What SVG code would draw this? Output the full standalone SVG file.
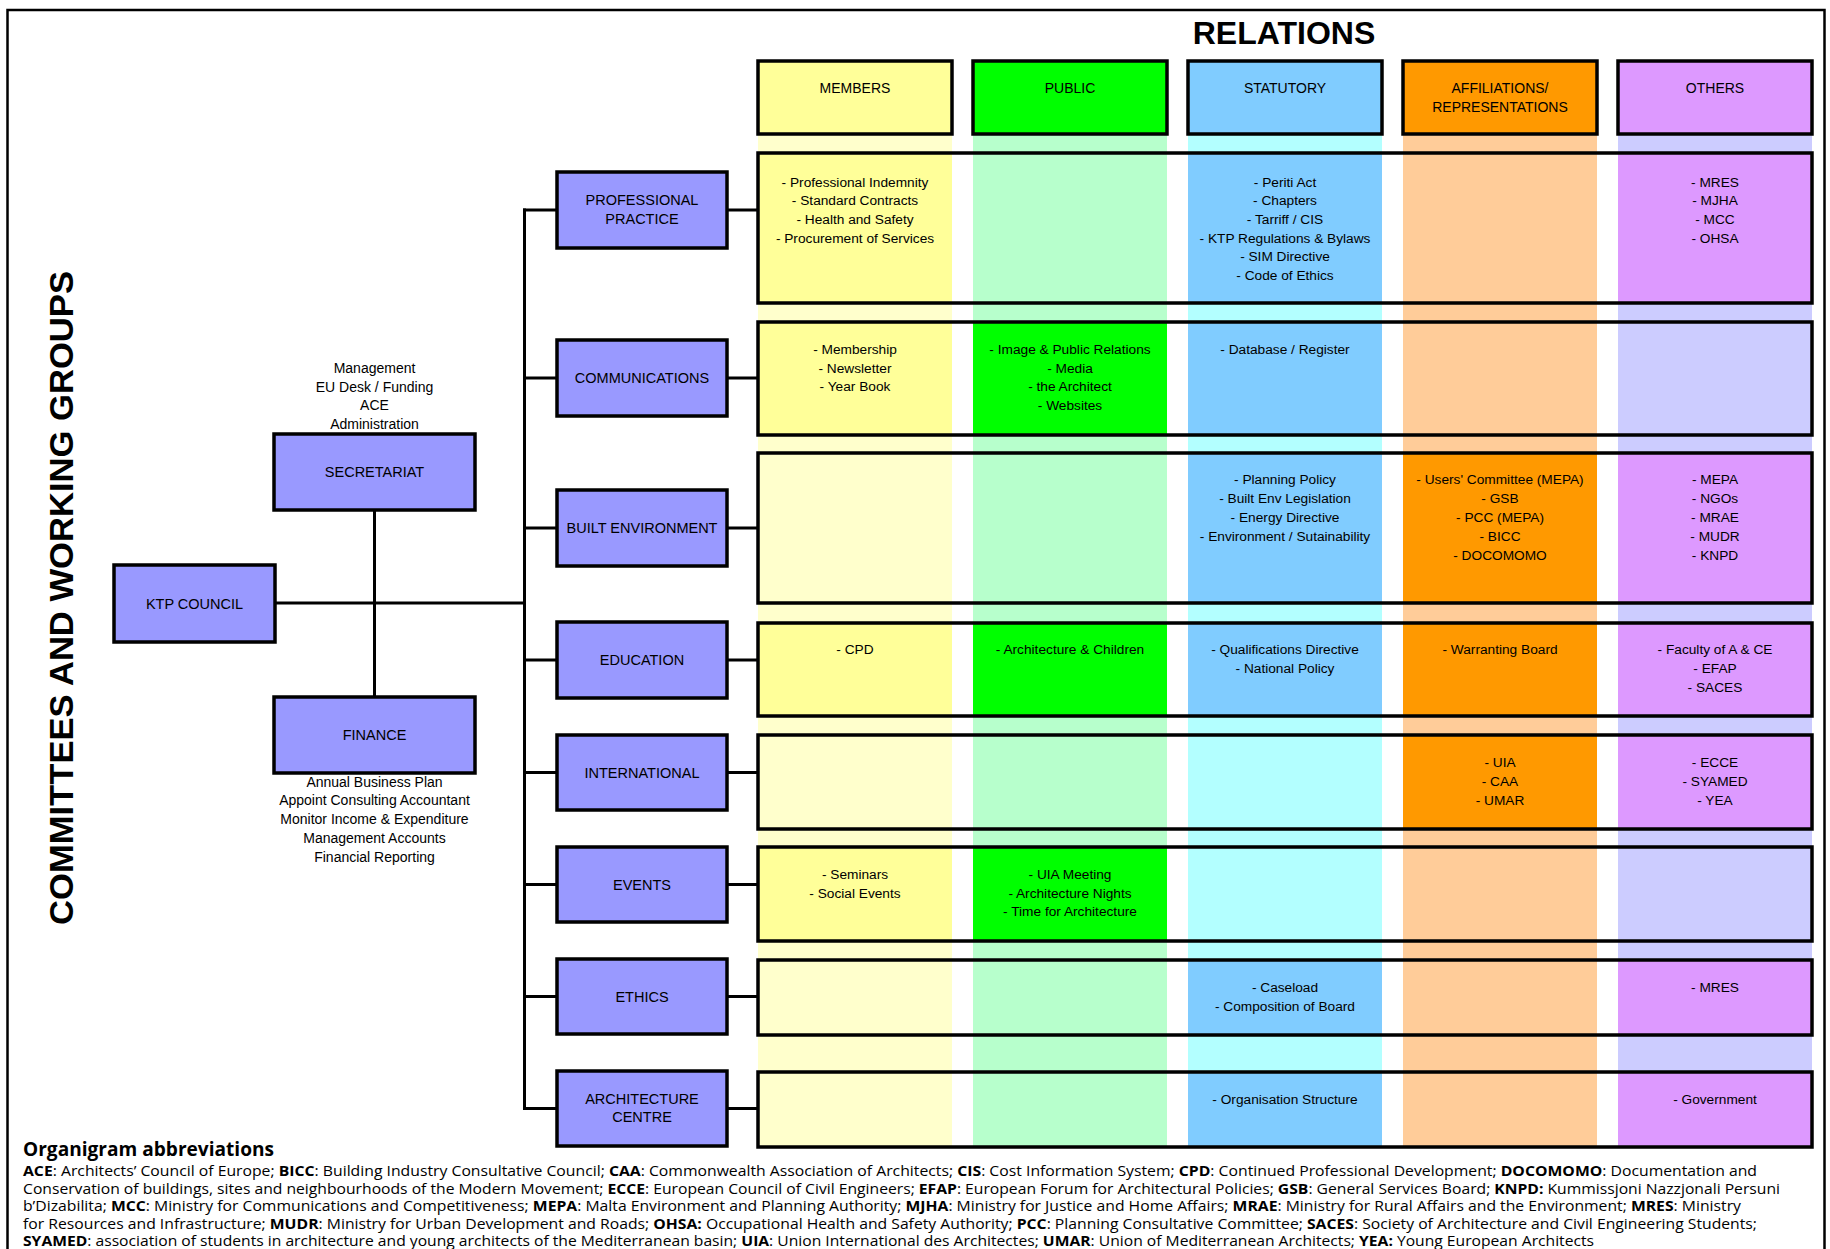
<svg xmlns="http://www.w3.org/2000/svg" width="1830" height="1249" viewBox="0 0 1830 1249">
<style>
.frame{fill:none;stroke:#000;stroke-width:2.5}
.box{fill:#9999FF;stroke:#000;stroke-width:3.5}
.rowbox{fill:none;stroke:#000;stroke-width:3.5}
.hdr{stroke:#000;stroke-width:3.5}
.conn{fill:none;stroke:#000;stroke-width:3}
text{font-family:"Liberation Sans",Arial,sans-serif;fill:#000}
.lbl{font-size:14.5px;text-anchor:middle}
.hl{font-size:14px;text-anchor:middle}
.cell{font-size:13.7px;text-anchor:middle}
.note{font-size:14px;text-anchor:middle}
.title{font-size:32px;font-weight:bold;text-anchor:middle}
.vtitle{font-size:34px;font-weight:bold;text-anchor:middle}
.abh{font-family:"Open Sans","Noto Sans",sans-serif;font-size:20px;font-weight:bold}
.ab{font-family:"Open Sans","Noto Sans",sans-serif;font-size:15px}
.ab tspan.b{font-weight:bold}
.sM{fill:#FFFF99}.sP{fill:#00FF00}.sS{fill:#80CCFF}.sA{fill:#FF9900}.sO{fill:#DD99FF}
.pM{fill:#FFFFCC}.pP{fill:#B7FFCC}.pS{fill:#B3FFFF}.pA{fill:#FFCC99}.pO{fill:#CCCCFF}
</style>

<rect class="frame" x="7.5" y="10" width="1817" height="1260"/>

<text class="title" x="1284" y="43.5">RELATIONS</text>
<text class="vtitle" transform="translate(73,598) rotate(-90)" textLength="654" lengthAdjust="spacingAndGlyphs">COMMITTEES AND WORKING GROUPS</text>

<!-- pale column strips -->
<g id="strips">
<rect class="pM" x="758" y="135" width="194" height="1013"/>
<rect class="pP" x="973" y="135" width="194" height="1013"/>
<rect class="pS" x="1188" y="135" width="194" height="1013"/>
<rect class="pA" x="1403" y="135" width="194" height="1013"/>
<rect class="pO" x="1618" y="135" width="194" height="1013"/>
</g>

<!-- column headers -->
<g id="hdr-members"><rect class="hdr sM" x="758" y="61" width="194" height="73"/><text class="hl" x="855" y="93">MEMBERS</text></g>
<g id="hdr-public"><rect class="hdr sP" x="973" y="61" width="194" height="73"/><text class="hl" x="1070" y="93">PUBLIC</text></g>
<g id="hdr-statutory"><rect class="hdr sS" x="1188" y="61" width="194" height="73"/><text class="hl" x="1285" y="93">STATUTORY</text></g>
<g id="hdr-affiliations"><rect class="hdr sA" x="1403" y="61" width="194" height="73"/><text class="hl" x="1500" y="93">AFFILIATIONS/</text><text class="hl" x="1500" y="112">REPRESENTATIONS</text></g>
<g id="hdr-others"><rect class="hdr sO" x="1618" y="61" width="194" height="73"/><text class="hl" x="1715" y="93">OTHERS</text></g>

<!-- relation rows -->
<g id="row-pp">
<rect class="sM" x="758" y="153" width="194" height="150"/>
<rect class="sS" x="1188" y="153" width="194" height="150"/>
<rect class="sO" x="1618" y="153" width="194" height="150"/>
<rect class="rowbox" x="758" y="153" width="1054" height="150"/>
<text class="cell" x="855" y="186.5">- Professional Indemnity<tspan x="855" dy="18.7">- Standard Contracts</tspan><tspan x="855" dy="18.7">- Health and Safety</tspan><tspan x="855" dy="18.7">- Procurement of Services</tspan></text>
<text class="cell" x="1285" y="186.5">- Periti Act<tspan x="1285" dy="18.7">- Chapters</tspan><tspan x="1285" dy="18.7">- Tarriff / CIS</tspan><tspan x="1285" dy="18.7">- KTP Regulations &amp; Bylaws</tspan><tspan x="1285" dy="18.7">- SIM Directive</tspan><tspan x="1285" dy="18.7">- Code of Ethics</tspan></text>
<text class="cell" x="1715" y="186.5">- MRES<tspan x="1715" dy="18.7">- MJHA</tspan><tspan x="1715" dy="18.7">- MCC</tspan><tspan x="1715" dy="18.7">- OHSA</tspan></text>
</g>

<g id="row-comm">
<rect class="sM" x="758" y="322" width="194" height="113"/>
<rect class="sP" x="973" y="322" width="194" height="113"/>
<rect class="sS" x="1188" y="322" width="194" height="113"/>
<rect class="rowbox" x="758" y="322" width="1054" height="113"/>
<text class="cell" x="855" y="354">- Membership<tspan x="855" dy="18.7">- Newsletter</tspan><tspan x="855" dy="18.7">- Year Book</tspan></text>
<text class="cell" x="1070" y="354">- Image &amp; Public Relations<tspan x="1070" dy="18.7">- Media</tspan><tspan x="1070" dy="18.7">- the Architect</tspan><tspan x="1070" dy="18.7">- Websites</tspan></text>
<text class="cell" x="1285" y="354">- Database / Register</text>
</g>

<g id="row-be">
<rect class="sS" x="1188" y="453" width="194" height="150"/>
<rect class="sA" x="1403" y="453" width="194" height="150"/>
<rect class="sO" x="1618" y="453" width="194" height="150"/>
<rect class="rowbox" x="758" y="453" width="1054" height="150"/>
<text class="cell" x="1285" y="484">- Planning Policy<tspan x="1285" dy="18.9">- Built Env Legislation</tspan><tspan x="1285" dy="18.9">- Energy Directive</tspan><tspan x="1285" dy="18.9">- Environment / Sutainability</tspan></text>
<text class="cell" x="1500" y="484">- Users' Committee (MEPA)<tspan x="1500" dy="18.9">- GSB</tspan><tspan x="1500" dy="18.9">- PCC (MEPA)</tspan><tspan x="1500" dy="18.9">- BICC</tspan><tspan x="1500" dy="18.9">- DOCOMOMO</tspan></text>
<text class="cell" x="1715" y="484">- MEPA<tspan x="1715" dy="18.9">- NGOs</tspan><tspan x="1715" dy="18.9">- MRAE</tspan><tspan x="1715" dy="18.9">- MUDR</tspan><tspan x="1715" dy="18.9">- KNPD</tspan></text>
</g>

<g id="row-edu">
<rect class="sM" x="758" y="623" width="194" height="93"/>
<rect class="sP" x="973" y="623" width="194" height="93"/>
<rect class="sS" x="1188" y="623" width="194" height="93"/>
<rect class="sA" x="1403" y="623" width="194" height="93"/>
<rect class="sO" x="1618" y="623" width="194" height="93"/>
<rect class="rowbox" x="758" y="623" width="1054" height="93"/>
<text class="cell" x="855" y="654">- CPD</text>
<text class="cell" x="1070" y="654">- Architecture &amp; Children</text>
<text class="cell" x="1285" y="654">- Qualifications Directive<tspan x="1285" dy="18.9">- National Policy</tspan></text>
<text class="cell" x="1500" y="654">- Warranting Board</text>
<text class="cell" x="1715" y="654">- Faculty of A &amp; CE<tspan x="1715" dy="18.9">- EFAP</tspan><tspan x="1715" dy="18.9">- SACES</tspan></text>
</g>

<g id="row-intl">
<rect class="sA" x="1403" y="735" width="194" height="94"/>
<rect class="sO" x="1618" y="735" width="194" height="94"/>
<rect class="rowbox" x="758" y="735" width="1054" height="94"/>
<text class="cell" x="1500" y="766.5">- UIA<tspan x="1500" dy="19">- CAA</tspan><tspan x="1500" dy="19">- UMAR</tspan></text>
<text class="cell" x="1715" y="766.5">- ECCE<tspan x="1715" dy="19">- SYAMED</tspan><tspan x="1715" dy="19">- YEA</tspan></text>
</g>

<g id="row-events">
<rect class="sM" x="758" y="847" width="194" height="94"/>
<rect class="sP" x="973" y="847" width="194" height="94"/>
<rect class="rowbox" x="758" y="847" width="1054" height="94"/>
<text class="cell" x="855" y="879">- Seminars<tspan x="855" dy="19">- Social Events</tspan></text>
<text class="cell" x="1070" y="879">- UIA Meeting<tspan x="1070" dy="19">- Architecture Nights</tspan><tspan x="1070" dy="18">- Time for Architecture</tspan></text>
</g>

<g id="row-ethics">
<rect class="sS" x="1188" y="960" width="194" height="75"/>
<rect class="sO" x="1618" y="960" width="194" height="75"/>
<rect class="rowbox" x="758" y="960" width="1054" height="75"/>
<text class="cell" x="1285" y="991.5">- Caseload<tspan x="1285" dy="19.5">- Composition of Board</tspan></text>
<text class="cell" x="1715" y="991.5">- MRES</text>
</g>

<g id="row-arch">
<rect class="sS" x="1188" y="1072" width="194" height="75"/>
<rect class="sO" x="1618" y="1072" width="194" height="75"/>
<rect class="rowbox" x="758" y="1072" width="1054" height="75"/>
<text class="cell" x="1285" y="1103.5">- Organisation Structure</text>
<text class="cell" x="1715" y="1103.5">- Government</text>
</g>

<!-- connectors -->
<g id="connectors">
<line class="conn" x1="524.5" y1="208.5" x2="524.5" y2="1110"/>
<line class="conn" x1="275" y1="603" x2="524.5" y2="603"/>
<line class="conn" x1="374.5" y1="510" x2="374.5" y2="697"/>
<path class="conn" d="M523 210H557M727 210H758M523 378H557M727 378H758M523 528H557M727 528H758M523 660H557M727 660H758M523 772.5H557M727 772.5H758M523 884.5H557M727 884.5H758M523 996.5H557M727 996.5H758M523 1108.5H557M727 1108.5H758"/>
</g>

<!-- left nodes -->
<g id="ktp-council"><rect class="box" x="114" y="565" width="161" height="77"/><text class="lbl" x="194.5" y="608.5">KTP COUNCIL</text></g>
<g id="secretariat"><rect class="box" x="274" y="434" width="201" height="76"/><text class="lbl" x="374.5" y="477">SECRETARIAT</text>
<text class="note" x="374.5" y="373">Management<tspan x="374.5" dy="18.7">EU Desk / Funding</tspan><tspan x="374.5" dy="18.7">ACE</tspan><tspan x="374.5" dy="18.7">Administration</tspan></text></g>
<g id="finance"><rect class="box" x="274" y="697" width="201" height="76"/><text class="lbl" x="374.5" y="740">FINANCE</text>
<text class="note" x="374.5" y="786.7">Annual Business Plan<tspan x="374.5" dy="18.75">Appoint Consulting Accountant</tspan><tspan x="374.5" dy="18.75">Monitor Income &amp; Expenditure</tspan><tspan x="374.5" dy="18.75">Management Accounts</tspan><tspan x="374.5" dy="18.75">Financial Reporting</tspan></text></g>

<g id="professional-practice"><rect class="box" x="557" y="172" width="170" height="76"/><text class="lbl" x="642" y="205">PROFESSIONAL</text><text class="lbl" x="642" y="223.5">PRACTICE</text></g>
<g id="communications"><rect class="box" x="557" y="340" width="170" height="76"/><text class="lbl" x="642" y="383">COMMUNICATIONS</text></g>
<g id="built-environment"><rect class="box" x="557" y="490" width="170" height="76"/><text class="lbl" x="642" y="533">BUILT ENVIRONMENT</text></g>
<g id="education"><rect class="box" x="557" y="622" width="170" height="76"/><text class="lbl" x="642" y="665">EDUCATION</text></g>
<g id="international"><rect class="box" x="557" y="735" width="170" height="75"/><text class="lbl" x="642" y="777.5">INTERNATIONAL</text></g>
<g id="events"><rect class="box" x="557" y="847" width="170" height="75"/><text class="lbl" x="642" y="889.5">EVENTS</text></g>
<g id="ethics"><rect class="box" x="557" y="959" width="170" height="75"/><text class="lbl" x="642" y="1001.5">ETHICS</text></g>
<g id="architecture-centre"><rect class="box" x="557" y="1071" width="170" height="75"/><text class="lbl" x="642" y="1103.5">ARCHITECTURE</text><text class="lbl" x="642" y="1122">CENTRE</text></g>

<!-- abbreviations -->
<g id="abbreviations">
<text class="abh" x="23" y="1156" textLength="251" lengthAdjust="spacingAndGlyphs">Organigram abbreviations</text>
<text class="ab" x="23" y="1176" textLength="1734" lengthAdjust="spacingAndGlyphs"><tspan class="b">ACE</tspan>: Architects’ Council of Europe; <tspan class="b">BICC</tspan>: Building Industry Consultative Council; <tspan class="b">CAA</tspan>: Commonwealth Association of Architects; <tspan class="b">CIS</tspan>: Cost Information System; <tspan class="b">CPD</tspan>: Continued Professional Development; <tspan class="b">DOCOMOMO</tspan>: Documentation and</text>
<text class="ab" x="23" y="1193.5" textLength="1757" lengthAdjust="spacingAndGlyphs">Conservation of buildings, sites and neighbourhoods of the Modern Movement; <tspan class="b">ECCE</tspan>: European Council of Civil Engineers; <tspan class="b">EFAP</tspan>: European Forum for Architectural Policies; <tspan class="b">GSB</tspan>: General Services Board; <tspan class="b">KNPD:</tspan> Kummissjoni Nazzjonali Persuni</text>
<text class="ab" x="23" y="1211" textLength="1718" lengthAdjust="spacingAndGlyphs">b’Dizabilita; <tspan class="b">MCC</tspan>: Ministry for Communications and Competitiveness; <tspan class="b">MEPA</tspan>: Malta Environment and Planning Authority; <tspan class="b">MJHA</tspan>: Ministry for Justice and Home Affairs; <tspan class="b">MRAE</tspan>: Ministry for Rural Affairs and the Environment; <tspan class="b">MRES</tspan>: Ministry</text>
<text class="ab" x="23" y="1228.5" textLength="1734" lengthAdjust="spacingAndGlyphs">for Resources and Infrastructure; <tspan class="b">MUDR</tspan>: Ministry for Urban Development and Roads; <tspan class="b">OHSA:</tspan> Occupational Health and Safety Authority; <tspan class="b">PCC</tspan>: Planning Consultative Committee; <tspan class="b">SACES</tspan>: Society of Architecture and Civil Engineering Students;</text>
<text class="ab" x="23" y="1246" textLength="1571" lengthAdjust="spacingAndGlyphs"><tspan class="b">SYAMED</tspan>: association of students in architecture and young architects of the Mediterranean basin; <tspan class="b">UIA</tspan>: Union International des Architectes; <tspan class="b">UMAR</tspan>: Union of Mediterranean Architects; <tspan class="b">YEA:</tspan> Young European Architects</text>
</g>
</svg>
